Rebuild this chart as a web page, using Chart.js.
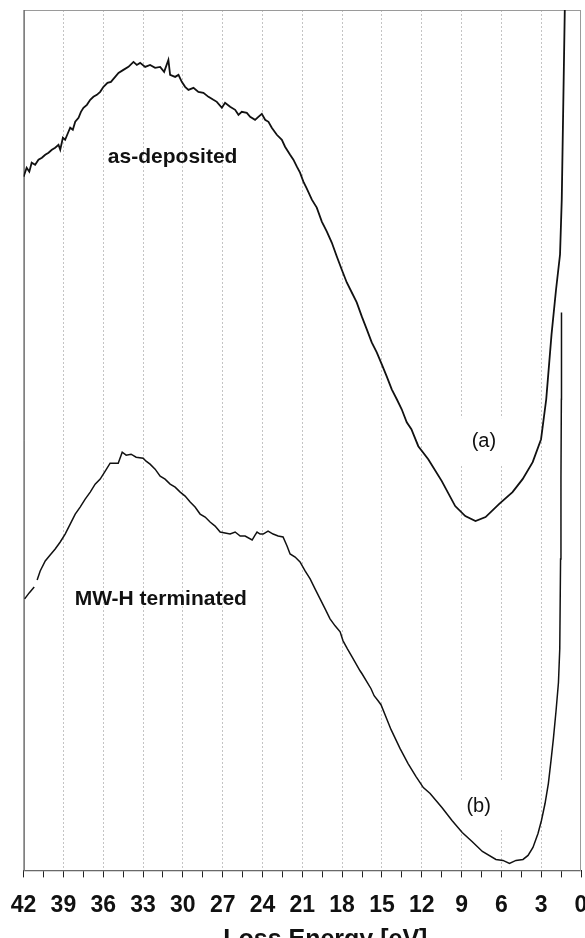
<!DOCTYPE html>
<html>
<head>
<meta charset="utf-8">
<script src="https://cdn.jsdelivr.net/npm/chart.js@4.4.1/dist/chart.umd.min.js"></script>
<style>
  html, body { margin: 0; padding: 0; background: #fff; overflow: hidden; }
  #wrap { width: 585px; height: 938px; }
</style>
</head>
<body>
<div id="wrap"><canvas id="eels" width="585" height="938"></canvas></div>
<script>
// loss energy (eV) and intensity (a.u.) for the as-deposited film, curve (a)
const energyA = [42.0, 41.77, 41.57, 41.39, 41.13, 40.88, 40.62, 40.37, 40.12, 39.87, 39.62, 39.37, 39.24, 39.04, 38.87,
  38.62, 38.49, 38.29, 38.11, 37.86, 37.68, 37.49, 37.23, 36.98, 36.74, 36.48, 36.23, 35.98, 35.68, 35.42,
  35.1, 34.85, 34.48, 34.1, 33.72, 33.47, 33.22, 32.84, 32.47, 32.09, 31.71, 31.41, 31.09, 30.96, 30.58,
  30.33, 30.08, 29.83, 29.58, 29.2, 28.83, 28.45, 28.07, 27.7, 27.44, 27.06, 26.82, 26.44, 26.06, 25.81,
  25.56, 25.18, 24.93, 24.56, 24.31, 24.05, 23.8, 23.55, 23.3, 22.92, 22.54, 22.3, 21.92, 21.67, 21.41,
  21.17, 20.92, 20.66, 20.28, 19.91, 19.53, 19.15, 18.78, 18.4, 18.03, 17.65, 17.27, 16.9, 16.52, 16.14,
  15.77, 15.39, 15.01, 14.64, 14.26, 13.88, 13.51, 13.13, 12.78, 12.26, 11.51, 10.49, 9.48, 8.72, 7.95,
  7.19, 6.18, 5.16, 4.4, 3.64, 3.01, 2.62, 2.22, 1.88, 1.58, 1.45, 1.33, 1.2];
const countsA = [695, 704, 700, 709, 707, 712, 714, 717, 719, 722, 724, 727, 722, 734, 732,
  740, 744, 742, 750, 754, 760, 764, 767, 772, 775, 777, 780, 785, 789, 790,
  795, 799, 802, 805, 810, 807, 809, 805, 807, 804, 805, 800, 812, 797, 795,
  797, 790, 785, 782, 784, 780, 779, 775, 772, 770, 764, 769, 765, 762, 757,
  760, 759, 755, 752, 755, 758, 752, 750, 744, 737, 732, 725, 717, 712, 705,
  699, 690, 683, 672, 664, 650, 640, 629, 615, 602, 589, 579, 569, 555, 542,
  529, 519, 507, 495, 482, 472, 462, 449, 442, 425, 412, 390, 365, 355, 350,
  354, 367, 379, 392, 409, 432, 472, 537, 582, 617, 672, 772, 880];

// MW-H terminated film, curve (b); null marks the short break near 41 eV
const energyB = [41.92, 41.58, 41.2, 41.1, 40.98, 40.75, 40.37, 40.0, 39.62, 39.24, 38.87, 38.49, 38.11, 37.74, 37.36,
  36.98, 36.61, 36.23, 35.85, 35.48, 34.87, 34.57, 34.27, 33.9, 33.52, 32.99, 32.77, 32.47, 32.09, 31.71,
  31.34, 30.96, 30.58, 30.2, 29.83, 29.45, 29.08, 28.7, 28.32, 27.95, 27.57, 27.19, 26.82, 26.44, 26.06,
  25.68, 25.31, 24.78, 24.56, 24.41, 24.18, 23.95, 23.58, 23.2, 22.82, 22.45, 22.15, 21.92, 21.54, 21.17,
  20.79, 20.41, 20.04, 19.66, 19.28, 18.91, 18.53, 18.15, 17.93, 17.6, 17.25, 16.65, 16.5, 15.82, 15.59,
  15.29, 15.07, 14.31, 13.63, 13.03, 12.43, 11.88, 11.37, 10.48, 9.72, 8.95, 8.21, 7.43, 6.41, 5.88,
  5.39, 4.9, 4.37, 3.99, 3.62, 3.24, 2.98, 2.71, 2.46, 2.26, 2.08, 1.88, 1.7, 1.6, 1.54,
  1.51, 1.48, 1.47];
const countsB = [272, 278, 284, null, 291, 300, 310, 316, 322, 329, 337, 347, 357, 364, 372,
  379, 387, 392, 400, 408, 408, 419, 416, 417, 414, 413, 410, 407, 402, 395,
  392, 387, 384, 379, 375, 369, 364, 357, 354, 349, 345, 339, 338, 337, 339,
  335, 335, 331, 336, 339, 337, 337, 340, 337, 335, 334, 325, 317, 314, 309,
  300, 292, 282, 272, 262, 252, 245, 239, 230, 222, 214, 200, 197, 182, 175,
  170, 166, 141, 122, 107, 94, 83, 77, 63, 50, 38, 29, 19, 11, 10,
  7, 10, 11, 15, 23, 37, 50, 67, 87, 110, 132, 160, 188, 222, 312,
  392, 472, 559];

const xMin = 0, xMax = 42, yMin = 0, yMax = 862;
const tickStep = 1.5;

const FONT = "'Liberation Sans', Arial, Helvetica, sans-serif";

function toPoints(xs, ys) {
  return xs.map((x, i) => ({ x: x, y: ys[i] }));
}

function isMajor(v) {
  return Math.abs(v / 3 - Math.round(v / 3)) < 1e-6;
}

// plot frame plus white patches behind the (a)/(b) tags
const framePlugin = {
  id: 'frame',
  beforeDatasetsDraw(chart) {
    const { ctx, chartArea: a, scales } = chart;
    ctx.save();
    ctx.fillStyle = '#fff';
    [[7.5, 430], [7.6, 66]].forEach(([ex, iy]) => {
      const px = scales.x.getPixelForValue(ex);
      const py = scales.y.getPixelForValue(iy);
      ctx.fillRect(px - 27, py - 23, 54, 47);
    });
    ctx.strokeStyle = '#9a9a9a';
    ctx.lineWidth = 1;
    ctx.strokeRect(a.left + 0.5, a.top + 0.5, a.right - a.left - 1, a.bottom - a.top);
    ctx.strokeStyle = '#555';
    ctx.beginPath();
    ctx.moveTo(a.left + 0.5, a.top);
    ctx.lineTo(a.left + 0.5, a.bottom);
    ctx.stroke();
    ctx.restore();
  },
  afterDatasetsDraw(chart) {
    const { ctx, chartArea: a, scales } = chart;
    const put = (text, ex, iy, font) => {
      ctx.font = font;
      ctx.fillText(text, scales.x.getPixelForValue(ex), scales.y.getPixelForValue(iy));
    };
    ctx.save();
    ctx.fillStyle = '#111';
    ctx.textAlign = 'center';
    ctx.textBaseline = 'middle';
    put('as-deposited', 30.77, 715, 'bold 21px ' + FONT);
    put('MW-H terminated', 31.66, 272, 'bold 21px ' + FONT);
    put('(a)', 7.32, 430, '20px ' + FONT);
    put('(b)', 7.71, 64, '20px ' + FONT);
    // axis title sits a little right of centre and runs off the bottom edge
    ctx.font = 'bold 25px ' + FONT;
    ctx.textBaseline = 'alphabetic';
    ctx.fillText('Loss Energy [eV]', (a.left + a.right) / 2 + 23, 947);
    ctx.restore();
  }
};

new Chart(document.getElementById('eels'), {
  type: 'line',
  data: {
    datasets: [
      {
        label: 'as-deposited',
        data: toPoints(energyA, countsA),
        borderColor: '#111',
        borderWidth: 1.8,
        pointRadius: 0,
        tension: 0
      },
      {
        label: 'MW-H terminated',
        data: toPoints(energyB, countsB),
        borderColor: '#111',
        borderWidth: 1.5,
        pointRadius: 0,
        tension: 0,
        spanGaps: false
      }
    ]
  },
  options: {
    responsive: false,
    animation: false,
    devicePixelRatio: 1,
    layout: { padding: { left: 23.6, right: 4, top: 10, bottom: 5 } },
    plugins: { legend: { display: false }, tooltip: { enabled: false }, title: { display: false } },
    scales: {
      x: {
        type: 'linear',
        reverse: true,
        min: xMin,
        max: xMax,
        afterFit(scale) {
          scale.paddingLeft = 0;
          scale.paddingRight = 0;
        },
        ticks: {
          stepSize: tickStep,
          autoSkip: false,
          maxRotation: 0,
          padding: 14,
          color: '#111',
          font: { family: FONT, size: 23, weight: 'bold' },
          callback: v => (isMajor(v) ? String(Math.round(v)) : '')
        },
        grid: {
          color: c => (c.tick && isMajor(c.tick.value) && c.tick.value > xMin && c.tick.value < xMax) ? '#c4c4c4' : 'rgba(0,0,0,0)',
          tickColor: '#222',
          tickLength: 7,
          tickBorderDash: [],
          lineWidth: 1
        },
        border: { display: true, color: '#222', width: 1, dash: [2, 2] }
      },
      y: {
        type: 'linear',
        min: yMin,
        max: yMax,
        display: false
      }
    }
  },
  plugins: [framePlugin]
});
</script>
</body>
</html>
